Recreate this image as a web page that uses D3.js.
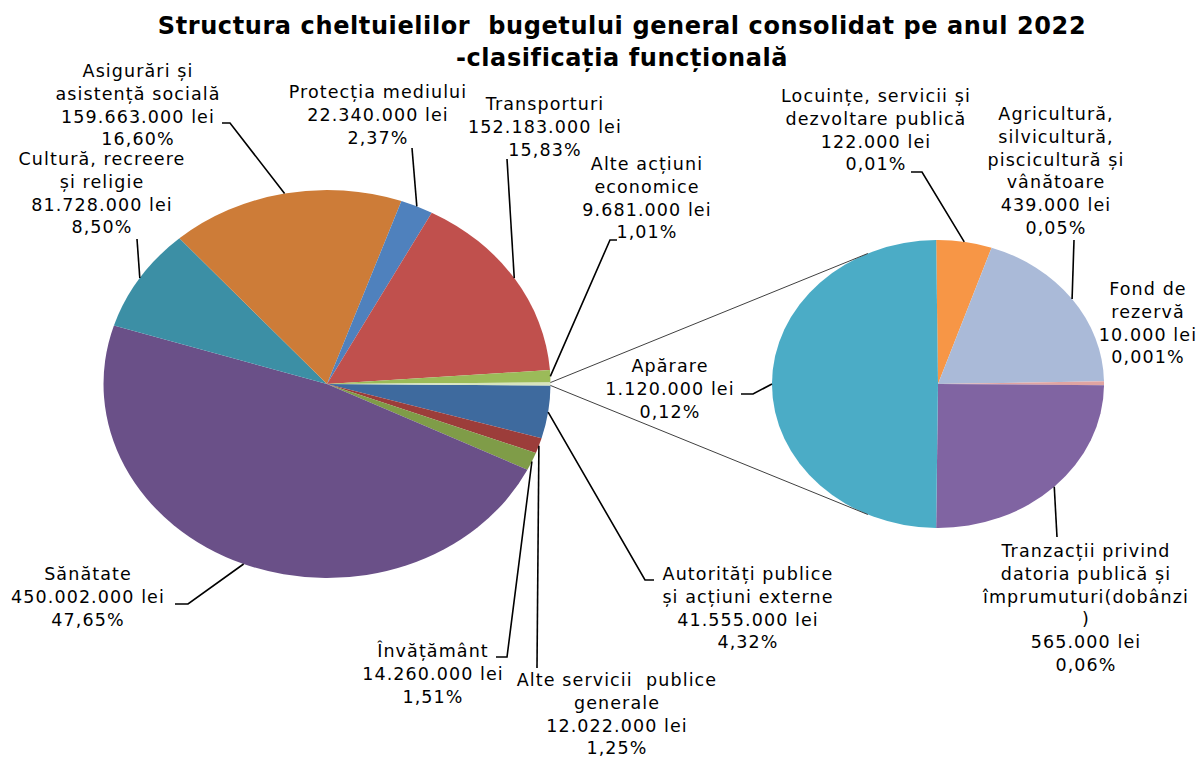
<!DOCTYPE html>
<html>
<head>
<meta charset="utf-8">
<script src="https://cdn.jsdelivr.net/npm/d3@7"></script>
<style>
  body { margin: 0; background: #fff; }
  svg text { font-family: "DejaVu Sans", sans-serif; fill: #000; white-space: pre; }
</style>
</head>
<body>
<svg id="chart" width="1197" height="758"></svg>
<script>
// main pie, clockwise from 3 o'clock
const mainNames = [
    "Autorități publice\nși acțiuni externe",
    "Alte servicii  publice\ngenerale",
    "Învățământ",
    "Sănătate",
    "Cultură, recreere\nși religie",
    "Asigurări și\nasistență socială",
    "Protecția mediului",
    "Transporturi",
    "Alte acțiuni\neconomice"
]
const mainValues = [41555000, 12022000, 14260000, 450002000, 81728000, 159663000, 22340000, 152183000, 9681000]
const mainPercents = [4.32, 1.25, 1.51, 47.65, 8.50, 16.60, 2.37, 15.83, 1.01]
const mainColors = ["#3e6a9e", "#9c3d3a", "#7f9c48", "#6a5088", "#3c8fa5", "#cd7c38", "#4f81bd", "#c0504d", "#9bbb59"]
const groupColor = "#d7e4bd"

// second pie, clockwise from 12 o'clock
const otherNames = [
    "Locuințe, servicii și\ndezvoltare publică",
    "Agricultură,\nsilvicultură,\npiscicultură și\nvânătoare",
    "Fond de\nrezervă",
    "Tranzacții privind\ndatoria publică și\nîmprumuturi(dobânzi\n)",
    "Apărare"
]
const otherValues = [122000, 439000, 10000, 565000, 1120000]
const otherPercents = [0.01, 0.05, 0.001, 0.06, 0.12]
const otherColors = ["#f79646", "#aabad8", "#e0a4a2", "#8064a2", "#4bacc6"]

const titleLines = ["Structura cheltuielilor  bugetului general consolidat pe anul 2022", "-clasificația funcțională"]

// layout: label centre x, first baseline y, leader points on the label side
const mainLabelPos = [
    {x: 748, y: 580, lead: [[654, 580], [645, 580]]},
    {x: 617, y: 686, lead: [[537, 668]]},
    {x: 433, y: 657, lead: [[496, 657], [507, 657]]},
    {x: 88, y: 580, lead: [[175, 604], [188, 604]]},
    {x: 102, y: 165, lead: [[137, 239]]},
    {x: 138, y: 77, lead: [[222, 123], [230, 123]]},
    {x: 378, y: 98, lead: [[412, 148]]},
    {x: 545, y: 110, lead: [[507, 159]]},
    {x: 647, y: 170, lead: [[617, 240], [610, 240]]}
]
const otherLabelPos = [
    {x: 876, y: 102, lead: [[911, 172], [922, 172]]},
    {x: 1056, y: 120, lead: [[1074, 240]]},
    {x: 1148, y: 295, lead: null},
    {x: 1086, y: 557, lead: [[1057, 537]]},
    {x: 670, y: 372, lead: [[741, 394], [753, 394]]}
]

const lineH = 22.8
const mainPie = {cx: 327, cy: 384, r: 194, sx: 1.152}
const subPie = {cx: 938, cy: 384, r: 144, sx: 1.153}
const joinAngle = 25 * Math.PI / 180

const locale = d3.formatLocale({decimal: ",", thousands: ".", grouping: [3], currency: ["", ""]})
const fmtLei = v => locale.format(",")(v) + " lei"
const fmtPct = p => locale.format(p < 0.01 ? ".3f" : ".2f")(p) + "%"

const svg = d3.select("#chart")

function pointOn(pie, a, rr) {
    let r = rr || pie.r
    return [pie.cx + pie.sx * r * Math.sin(a), pie.cy - r * Math.cos(a)]
}

// main pie: "other" group slice centred on 3 o'clock
const otherTotal = d3.sum(otherValues)
const mainData = mainValues.map((v, i) => ({name: mainNames[i], value: v, pct: mainPercents[i], color: mainColors[i], pos: mainLabelPos[i]}))
mainData.push({name: null, value: otherTotal, color: groupColor, pos: null})
const grandTotal = d3.sum(mainData, d => d.value)
const half = Math.PI * otherTotal / grandTotal
const mainArcs = d3.pie().sort(null).value(d => d.value)
    .startAngle(Math.PI / 2 + half).endAngle(Math.PI / 2 + half + 2 * Math.PI)(mainData)

// second pie: last slice (Apărare) centred on 9 o'clock
const subData = otherValues.map((v, i) => ({name: otherNames[i], value: v, pct: otherPercents[i], color: otherColors[i], pos: otherLabelPos[i]}))
const lastFrac = otherValues[otherValues.length - 1] / otherTotal
const subOffset = Math.PI * lastFrac - Math.PI / 2
const subArcs = d3.pie().sort(null).value(d => d.value)
    .startAngle(subOffset).endAngle(subOffset + 2 * Math.PI)(subData)

function drawPie(pie, arcs) {
    let arc = d3.arc().innerRadius(0).outerRadius(pie.r)
    svg.append("g")
        .attr("transform", `translate(${pie.cx},${pie.cy}) scale(${pie.sx},1)`)
        .selectAll("path")
        .data(arcs)
        .join("path")
            .attr("d", arc)
            .attr("fill", d => d.data.color)
}
drawPie(mainPie, mainArcs)
drawPie(subPie, subArcs)

// connector lines between the pies
const grp = mainArcs[mainArcs.length - 1]
const joins = [
    [pointOn(mainPie, grp.startAngle), pointOn(subPie, -joinAngle)],
    [pointOn(mainPie, grp.endAngle), pointOn(subPie, Math.PI + joinAngle)]
]
svg.append("g")
    .selectAll("line")
    .data(joins)
    .join("line")
        .attr("x1", d => d[0][0])
        .attr("y1", d => d[0][1])
        .attr("x2", d => d[1][0])
        .attr("y2", d => d[1][1])
        .attr("stroke", "#404040")
        .attr("stroke-width", 1)

function drawLabels(pie, arcs) {
    let items = arcs.filter(d => d.data.pos)
    svg.append("g")
        .selectAll("path")
        .data(items.filter(d => d.data.pos.lead))
        .join("path")
            .attr("fill", "none")
            .attr("stroke", "#000")
            .attr("stroke-width", 1.6)
            .attr("d", d => {
                let mid = (d.startAngle + d.endAngle) / 2
                let pts = d.data.pos.lead.concat([pointOn(pie, mid)])
                return d3.line()(pts)
            })
    let labels = svg.append("g")
        .selectAll("text")
        .data(items)
        .join("text")
            .attr("text-anchor", "middle")
            .attr("font-size", 17.5)
            .attr("letter-spacing", 1.1)
            .attr("x", d => d.data.pos.x)
            .attr("y", d => d.data.pos.y)
    labels.selectAll("tspan")
        .data(d => d.data.name.split("\n").concat([fmtLei(d.data.value), fmtPct(d.data.pct)])
            .map((t, i) => ({t, i, x: d.data.pos.x, y: d.data.pos.y})))
        .join("tspan")
            .attr("x", d => d.x)
            .attr("y", d => d.y + d.i * lineH)
            .text(d => d.t)
}
drawLabels(mainPie, mainArcs)
drawLabels(subPie, subArcs)

svg.append("g")
    .selectAll("text")
    .data(titleLines)
    .join("text")
        .attr("x", 622)
        .attr("y", (d, i) => 34 + i * 32)
        .attr("text-anchor", "middle")
        .attr("font-size", 24)
        .attr("letter-spacing", 0.6)
        .attr("font-weight", "bold")
        .text(d => d)
</script>
</body>
</html>
